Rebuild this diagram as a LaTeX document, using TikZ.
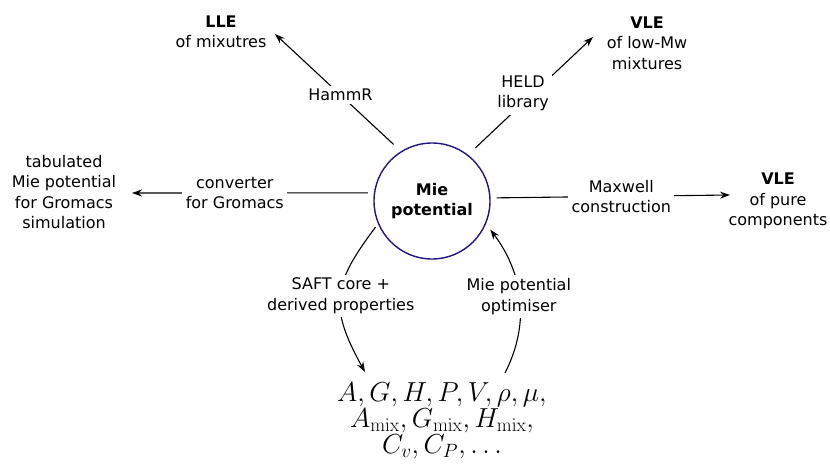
\RequirePackage{fix-cm}
\documentclass[tikz,border=0pt]{standalone}
\usepackage[no-math]{fontspec}
\setmainfont{DejaVu Sans}
\usetikzlibrary{arrows.meta}
\definecolor{ringblue}{RGB}{30,20,130}

\begin{document}
\begin{tikzpicture}[x=1pt,y=-1pt,
  every node/.style={font=\fontsize{16}{20.5}\selectfont, align=center},
  lbl/.style={fill=white},
  arr/.style={-{Stealth[length=10pt,width=7pt]}, line width=1.1pt},
  ring/.style={circle, draw=ringblue, line width=1.4pt, minimum size=116pt, inner sep=0pt,
    font=\bfseries\fontsize{16}{20.5}\selectfont}]
\useasboundingbox (0,0) rectangle (830,466);

% central potential
\node[ring] (mie) at (432,201) {Mie\\potential};

% targets
\node (lle) at (221,32) {\textbf{LLE}\\of mixutres};
\node (vlemix) at (647,43) {\textbf{VLE}\\of low-Mw\\mixtures};
\node (vlepure) at (778,201) {\textbf{VLE}\\of pure\\components};
\node (tab) at (64,192) {tabulated\\Mie potential\\for Gromacs\\simulation};
\node[font=\fontsize{27.5}{26}\selectfont] (props) at (442,421)
  {$A, G, H, P, V, \rho, \mu,$\\
   $A_{\mathrm{mix}}, G_{\mathrm{mix}}, H_{\mathrm{mix}},$\\
   $C_v, C_P, \ldots$};

% arrow ends
\coordinate (lletip) at (275,34);
\coordinate (heldtip) at (593,37);
\coordinate (maxtip) at (730,195);
\coordinate (convtip) at (132,193);
\coordinate (safttip) at (365,372);
\coordinate (optstart) at (505,373);

% radial tools
\draw[arr, shorten <=10pt] (mie.122) -- node[lbl, pos=0.48] {HammR} (lletip);
\draw[arr, shorten <=10pt] (mie.52) -- node[lbl, pos=0.52, xshift=-10pt] {HELD\\library} (heldtip);
\draw[arr, shorten <=6pt] (mie.3) -- node[lbl, pos=0.546] {Maxwell\\construction} (maxtip);
\draw[arr, shorten <=6pt] (mie.172) -- node[lbl, pos=0.575] {converter\\for Gromacs} (convtip);

% property cycle
\draw[arr, shorten <=4pt] (mie.203) to[out=233,in=119,looseness=1.3]
  node[lbl] {SAFT core +\\derived properties} (safttip);
\draw[arr, shorten >=7pt] (optstart) to[out=63,in=307]
  node[lbl] {Mie potential\\optimiser} (mie.337);
\end{tikzpicture}
\end{document}
